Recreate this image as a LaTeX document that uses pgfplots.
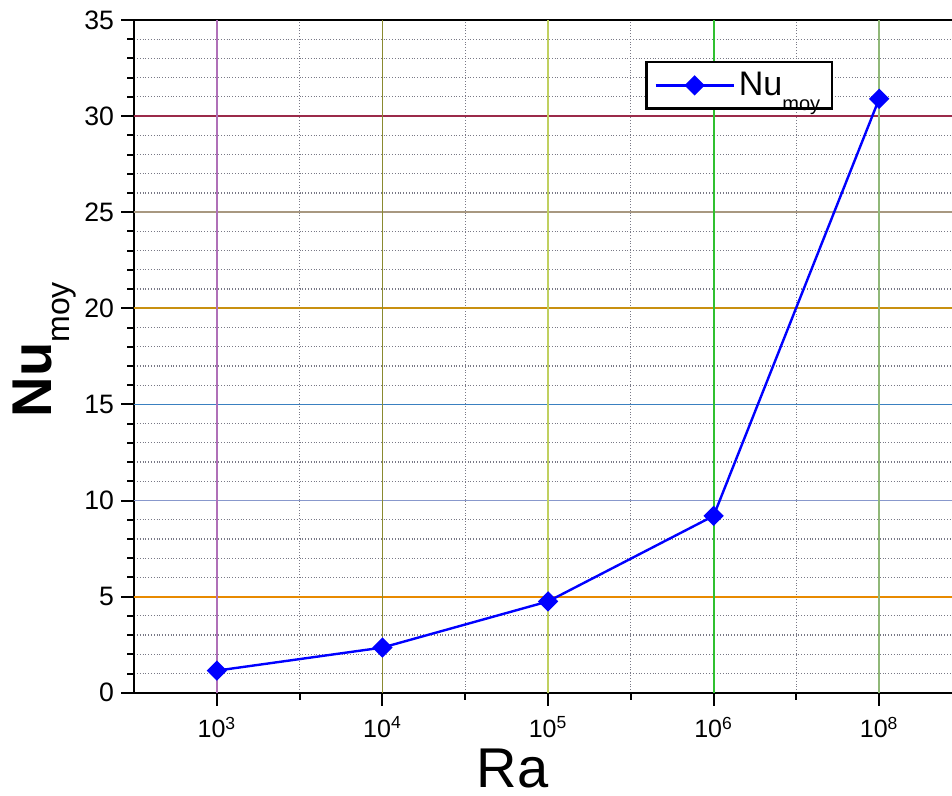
\documentclass[border=0pt]{standalone}
\usepackage{fontspec}
\setmainfont{Liberation Sans}
\usepackage{pgfplots}
\pgfplotsset{compat=1.18}
\definecolor{gA}{HTML}{9B2A4A}
\definecolor{gB}{HTML}{A89880}
\definecolor{gC}{HTML}{C89010}
\definecolor{gD}{HTML}{3A80C0}
\definecolor{gE}{HTML}{8898CC}
\definecolor{gF}{HTML}{E88A00}
\definecolor{vA}{HTML}{B070B8}
\definecolor{vB}{HTML}{8A8A30}
\definecolor{vC}{HTML}{C0D060}
\definecolor{vD}{HTML}{30C030}
\definecolor{vE}{HTML}{90B878}
\begin{document}
\begin{tikzpicture}
\begin{axis}[
    scale only axis, width=408.5pt, height=336pt,
    xmin=-0.5, xmax=4.44, ymin=0, ymax=35,
    axis x line=box, axis y line=left,
    y axis line style={-}, axis line style={line width=1.1pt},
    xtick={0,1,2,3,4},
    xticklabels={10\textsuperscript{3},10\textsuperscript{4},10\textsuperscript{5},10\textsuperscript{6},10\textsuperscript{8}},
    minor xtick={0.5,1.5,2.5,3.5},
    ytick={0,5,...,35}, minor y tick num=4,
    tick align=outside, major tick length=6.5pt, minor tick length=3.5pt,
    tick style={black, line width=1pt},
    xtick pos=bottom, ytick pos=left,
    xminorgrids=true, yminorgrids=true,
    minor grid style={densely dotted, gray!95!blue, line width=0.6pt},
    /pgf/number format/assume math mode=true,
    yticklabel style={font=\fontsize{13.3}{14}\selectfont},
    xticklabel style={font=\fontsize{12.5}{14}\selectfont, yshift=-2pt},
    xlabel={Ra},
    xlabel style={font=\fontsize{28}{30}\selectfont, at={(axis description cs:0.463,-0.112)}, anchor=center},
    ylabel={\textbf{Nu}\raisebox{-9pt}{\fontsize{16}{16}\selectfont moy}},
    ylabel style={font=\fontsize{28}{30}\selectfont, at={(axis description cs:-0.110,0.51)}, anchor=center, rotate=0},
    legend style={at={(0.625,0.939)}, anchor=north west, draw=black, line width=1.1pt,
        font=\fontsize{17}{18}\selectfont, inner xsep=4pt, inner ysep=3pt},
    legend cell align=left,
    legend image code/.code={
        \draw[mark repeat=2, mark phase=2] plot coordinates {(0pt,0pt) (19.5pt,0pt) (39pt,0pt)};
    },
]
\addplot[forget plot, gA, line width=0.9pt] coordinates {(-0.5,30) (4.44,30)};
\addplot[forget plot, gB, line width=0.9pt] coordinates {(-0.5,25) (4.44,25)};
\addplot[forget plot, gC, line width=0.9pt] coordinates {(-0.5,20) (4.44,20)};
\addplot[forget plot, gD, line width=0.9pt] coordinates {(-0.5,15) (4.44,15)};
\addplot[forget plot, gE, line width=0.9pt] coordinates {(-0.5,10) (4.44,10)};
\addplot[forget plot, gF, line width=0.9pt] coordinates {(-0.5,5) (4.44,5)};
\addplot[forget plot, vA, line width=0.9pt] coordinates {(0,0) (0,35)};
\addplot[forget plot, vB, line width=0.9pt] coordinates {(1,0) (1,35)};
\addplot[forget plot, vC, line width=0.9pt] coordinates {(2,0) (2,35)};
\addplot[forget plot, vD, line width=0.9pt] coordinates {(3,0) (3,35)};
\addplot[forget plot, vE, line width=0.9pt] coordinates {(4,0) (4,35)};
\addplot[blue, line width=1.2pt, mark=square*, mark size=3pt,
    mark options={rotate=45, fill=blue, solid}]
    coordinates {(0,1.15) (1,2.35) (2,4.75) (3,9.2) (4,30.9)};
\addlegendentry{Nu\raisebox{-7.5pt}{\fontsize{10}{10}\selectfont moy}}
\coordinate (bl) at (rel axis cs:0,0);
\coordinate (tr) at (rel axis cs:1,1);
\end{axis}
\pgfresetboundingbox
\path ([xshift=-67pt,yshift=-51.5pt]bl) rectangle ([yshift=10pt]tr);
\end{tikzpicture}
\end{document}
